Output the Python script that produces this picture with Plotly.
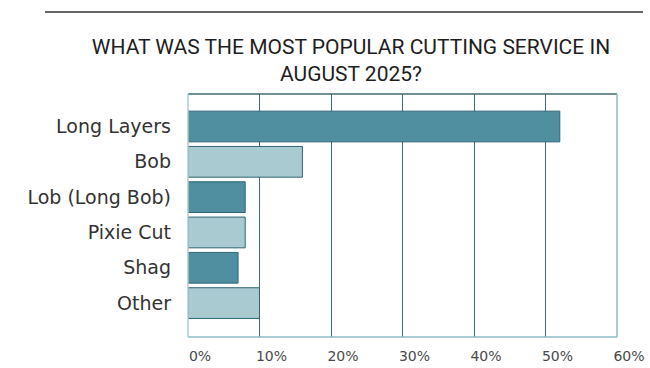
import plotly.graph_objects as go

categories = ["Long Layers", "Bob", "Lob (Long Bob)", "Pixie Cut", "Shag", "Other"]
values = [52, 16, 8, 8, 7, 10]
bar_colors = ["#4f8fa0", "#a9cad1", "#4f8fa0", "#a9cad1", "#4f8fa0", "#a9cad1"]
tick_vals = [0, 10, 20, 30, 40, 50, 60]
tick_text = ["0%", "10%", "20%", "30%", "40%", "50%", "60%"]
title_text = "WHAT WAS THE MOST POPULAR CUTTING SERVICE IN<br>AUGUST 2025?"

fig = go.Figure(go.Bar(
    x=values, y=categories, orientation="h",
    marker=dict(color=bar_colors, line=dict(color="#2f6573", width=1)),
    width=0.87,
))

fig.update_layout(
    width=650, height=368,
    margin=dict(l=188, r=33, t=94, b=31, autoexpand=False),
    paper_bgcolor="white", plot_bgcolor="white",
    showlegend=False,
    title=dict(text=title_text, xref="container", x=0.54, xanchor="center",
               yref="container", y=1 - 54 / 368, yanchor="middle",
               font=dict(family="Roboto, sans-serif", size=21, color="#1e1e1e")),
    xaxis=dict(range=[0, 60], tickvals=tick_vals, ticktext=tick_text,
               showgrid=True, gridcolor="#3f6b75", gridwidth=1,
               zeroline=False, showline=False, automargin=False,
               ticks="", ticklabelstandoff=9, ticklabelshift=12,
               tickfont=dict(family="DejaVu Sans, sans-serif", size=14, color="#4a4a4a")),
    yaxis=dict(categoryorder="array", categoryarray=categories,
               range=[5.96, -0.92], showgrid=False, zeroline=False, showline=False,
               automargin=False, ticks="", ticklabelstandoff=16,
               tickfont=dict(family="DejaVu Sans, sans-serif", size=19, color="#333333")),
    shapes=[
        dict(type="line", xref="paper", yref="paper", x0=-143/429, x1=455/429,
             y0=1 + 82/243, y1=1 + 82/243, line=dict(color="#333333", width=1.5)),
        dict(type="line", xref="paper", yref="paper", x0=0, x1=1, y0=1, y1=1,
             line=dict(color="#3f6b75", width=1.5)),
        dict(type="line", xref="paper", yref="paper", x0=0, x1=1, y0=0, y1=0,
             line=dict(color="#8dbcc5", width=1.5)),
        dict(type="line", xref="paper", yref="paper", x0=0, x1=0, y0=0, y1=1,
             line=dict(color="#a9cdd4", width=1.5)),
        dict(type="line", xref="paper", yref="paper", x0=1, x1=1, y0=0, y1=1,
             line=dict(color="#8dbcc5", width=1.5)),
    ],
)

fig.write_html("out.html", config={"displayModeBar": False},
               post_script="document.body.style.margin='0';document.body.style.overflow='hidden';")
